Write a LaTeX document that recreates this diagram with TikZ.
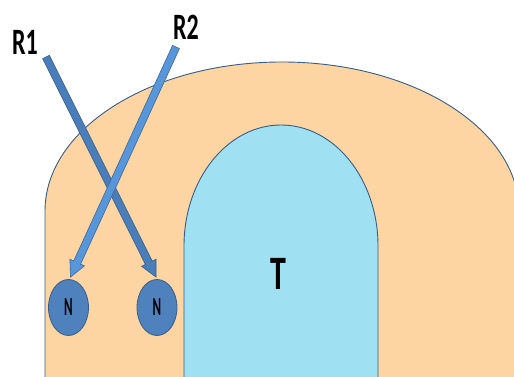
\documentclass[tikz,border=0pt]{standalone}
\usepackage{fontspec}
\setmainfont{Carlito}
\usetikzlibrary{calc,shapes.geometric}
\definecolor{peach}{RGB}{252,213,162}
\definecolor{skyb}{RGB}{160,224,243}
\definecolor{edgeb}{RGB}{56,93,138}
\definecolor{arrA}{RGB}{74,126,187}
\definecolor{arrB}{RGB}{88,150,218}
\definecolor{nodeb}{RGB}{79,129,189}
\newcommand\blockarr[3]{%
  \coordinate (ba-h) at ($(#2)!16pt!(#1)$);
  \filldraw[#3] ($(#1)!3.8pt!90:(#2)$) -- ($(ba-h)!3.8pt!90:(#2)$) -- ($(ba-h)!8pt!90:(#2)$) -- (#2)
     -- ($(ba-h)!8pt!-90:(#2)$) -- ($(ba-h)!3.8pt!-90:(#2)$) -- ($(#1)!3.8pt!-90:(#2)$) -- cycle;}
\tikzset{
  lbl/.style={font=\fontsize{24}{24}\selectfont\bfseries, yscale=1.55, transform shape, inner sep=0pt},
  nnode/.style={ellipse, draw=edgeb, line width=0.8pt, fill=nodeb, minimum width=40pt, minimum height=56pt, inner sep=0pt,
     font=\fontsize{13}{13}\selectfont\bfseries},
  shapeline/.style={draw=edgeb, line width=0.9pt}
}
\begin{document}
\begin{tikzpicture}[x=1pt,y=1pt]
\useasboundingbox (0,0) rectangle (514,377);
\clip (0,0) rectangle (514,377);
% outer arch
\path[shapeline, fill=peach] (45,-5) -- (45,166) arc[start angle=180, end angle=0, x radius=237pt, y radius=149pt] -- (519,-5) -- cycle;
% inner arch
\path[shapeline, fill=skyb] (184,-5) -- (184,131) arc[start angle=180, end angle=0, x radius=97pt, y radius=121pt] -- (378,-5) -- cycle;
\node[font=\fontsize{32}{32}\selectfont\bfseries, yscale=1.5, transform shape, inner sep=0pt] (t) at (278,103) {T};
% N nodes
\node[nnode] (n1) at (68.5,69.5) {\scalebox{1}[2]{N}};
\node[nnode] (n2) at (157,69.5) {\scalebox{1}[2]{N}};
% labels
\node[lbl] (r1) at (25,335) {R1};
\node[lbl] (r2) at (186,350) {R2};
\coordinate (r1s) at (46,320);
\coordinate (r2s) at (176,330);
\coordinate (r1e) at ($(n2.north)+(-1,2)$);
\coordinate (r2e) at ($(n1.north)+(2,2)$);
\blockarr{r1s}{r1e}{fill=arrA, draw=edgeb, line width=0.6pt}
\blockarr{r2s}{r2e}{fill=arrB, draw=edgeb!80!arrB, line width=0.6pt}
\end{tikzpicture}
\end{document}
